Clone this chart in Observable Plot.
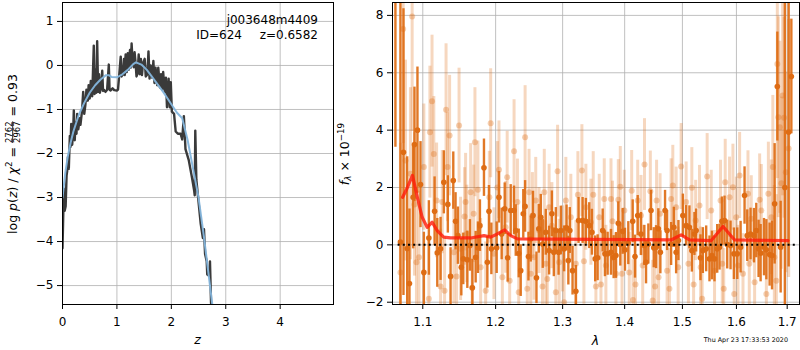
<!DOCTYPE html>
<html><head><meta charset="utf-8">
<script src="https://cdn.jsdelivr.net/npm/d3@7"></script>
<script src="https://cdn.jsdelivr.net/npm/@observablehq/plot@0.6"></script>
<style>
body{margin:0;background:#fff;}
#wrap{position:relative;width:800px;height:350px;overflow:hidden;background:#fff;}
#left,#right{position:absolute;top:0;}
#left{left:0;}
#right{left:330px;}
.lbl{white-space:pre;}
</style></head><body>
<div id="wrap"><div id="left"></div><div id="right"></div></div>
<script>
// ---------- left panel: log p(z) ----------
const zTicks = [0, 1, 2, 3, 4];
const pTicks = [-5, -4, -3, -2, -1, 0, 1];
const zDark = [0.000,0.010,0.025,0.040,0.058,0.075,0.086,0.100,0.116,0.135,0.147,0.160,0.178,0.196,0.208,0.225,0.240,0.257,0.270,0.290,0.318,0.330,0.360,0.380,0.400,0.420,0.440,0.465,0.480,0.500,0.520,0.546,0.560,0.575,0.590,0.607,0.622,0.637,0.655,0.670,0.686,0.700,0.730,0.745,0.760,0.790,0.820,0.851,0.865,0.880,0.920,0.950,1.000,1.020,1.050,1.070,1.085,1.110,1.130,1.145,1.160,1.180,1.200,1.215,1.240,1.255,1.270,1.290,1.310,1.325,1.340,1.360,1.380,1.400,1.420,1.440,1.460,1.480,1.510,1.530,1.560,1.580,1.600,1.620,1.650,1.670,1.690,1.710,1.740,1.760,1.790,1.810,1.830,1.850,1.880,1.900,1.920,1.950,1.970,1.990,2.010,2.050,2.080,2.120,2.170,2.200,2.230,2.260,2.320,2.380,2.420,2.430,2.440,2.460,2.500,2.540,2.580,2.600,2.620,2.650,2.660,2.700,2.710,2.730,2.750];
const pDark = [-4.15,-3.60,-2.80,-3.30,-3.20,-2.50,-2.40,-2.08,-2.35,-1.60,-1.85,-1.33,-1.80,-1.50,-1.02,-1.70,-1.30,-1.55,-1.10,-1.45,-1.20,-1.35,-1.02,-0.60,-1.10,-0.90,-0.55,-0.80,-0.45,-0.75,-0.35,-0.70,-0.15,0.45,-0.65,-0.10,-0.62,0.55,-0.60,-0.20,-0.62,-0.55,-0.12,-0.58,-0.55,-0.60,-0.55,0.02,-0.55,-0.57,-0.52,-0.56,-0.57,-0.55,-0.10,0.20,-0.25,-0.20,0.15,-0.22,0.25,-0.15,0.28,-0.10,0.35,-0.05,0.50,0.05,-0.04,0.30,0.10,-0.25,-0.18,0.25,-0.20,0.15,-0.22,0.05,0.15,-0.25,-0.20,0.32,-0.30,0.00,-0.28,0.10,-0.40,-0.05,-0.45,-0.05,-0.50,-0.20,-0.55,-0.15,-0.60,-0.28,-0.95,-0.30,-0.95,-0.38,-1.05,-1.10,-1.50,-1.55,-1.55,-1.68,-1.15,-1.90,-2.15,-2.55,-2.85,-2.95,-1.48,-2.60,-3.10,-3.60,-3.92,-3.72,-4.28,-4.45,-4.75,-4.78,-4.45,-5.40,-5.60];
const zSmooth = [0.00,0.05,0.10,0.15,0.20,0.30,0.40,0.50,0.60,0.70,0.80,0.85,0.90,1.00,1.10,1.20,1.30,1.35,1.45,1.55,1.70,1.85,2.00,2.10,2.20,2.30,2.40,2.50,2.60,2.70,2.76];
const pSmooth = [-3.00,-2.45,-2.05,-1.75,-1.50,-1.12,-0.85,-0.62,-0.45,-0.32,-0.22,-0.22,-0.26,-0.27,-0.20,-0.10,0.03,0.07,0.02,-0.10,-0.35,-0.60,-0.88,-1.07,-1.20,-1.70,-2.35,-3.00,-3.90,-4.90,-5.50];

// ---------- right panel: spectrum ----------
const lamTicks = [1.1, 1.2, 1.3, 1.4, 1.5, 1.6, 1.7];
const fTicks = [-2, 0, 2, 4, 6, 8];
const darkLam = [
1.0646,1.0710,1.0749,1.0797,1.0826,1.0874,1.0891,1.0930,1.0970,1.1014,
1.1080,1.1156,1.1192,1.1236,1.1280,1.1334,1.1371,1.1408,1.1439,1.1471,
1.1518,1.1545,1.1601,1.1637,1.1671,1.1717,1.1749,1.1777,1.1834,1.1882,
1.1905,1.1939,1.2015,1.2048,1.2087,1.2131,1.2174,1.2218,1.2267,1.2292,
1.2336,1.2365,1.2403,1.2430,1.2480,1.2514,1.2548,1.2600,1.2635,1.2665,
1.2695,1.2741,1.2792,1.2834,1.2864,1.2895,1.2937,1.2972,1.3023,1.3061,
1.3089,1.3112,1.3155,1.3207,1.3250,1.3314,1.3366,1.3420,1.3463,1.3516,
1.3555,1.3637,1.3674,1.3718,1.3773,1.3817,1.3855,1.3894,1.3927,1.3967,
1.4005,1.4061,1.4135,1.4174,1.4220,1.4276,1.4333,1.4362,1.4402,1.4448,
1.4495,1.4535,1.4575,1.4610,1.4692,1.4728,1.4799,1.4847,1.4888,1.4929,
1.5008,1.5067,1.5126,1.5170,1.5217,1.5248,1.5327,1.5371,1.5432,1.5493,
1.5538,1.5586,1.5637,1.5680,1.5725,1.5774,1.5825,1.5888,1.5952,1.6016,
1.6080,1.6156,1.6208,1.6272,1.6339,1.6384,1.6429,1.6469,1.6536,1.6582,
1.6647,1.6695,1.6747,1.6801,1.6868,1.6953,1.7030,1.7085];
const darkFlux = [
9.0,0.1,3.23,-0.13,-1.35,1.66,3.5,4.0,2.1,-0.96,
0.24,1.17,-0.28,-0.14,2.18,1.41,-1.1,2.24,0.82,0.32,
-0.78,-0.49,-0.52,-0.02,-1.5,-0.43,-0.1,0.67,2.69,-0.61,
1.17,-0.14,-0.1,1.66,0.38,1.26,-0.45,1.2,1.2,0.5,
-0.3,-0.9,1.08,1.34,-0.41,0.2,1.02,-1.15,0.56,0.96,
0.03,0.44,-0.2,1.08,-0.26,0.5,-0.26,0.5,-0.14,0.59,
-0.55,0.5,-0.9,-1.62,0.85,0.85,0.82,0.67,0.44,-0.49,
-0.45,0.5,-0.31,-0.31,-0.26,-0.43,-0.37,0.75,0.01,0.47,
-0.17,0.06,0.82,-0.41,1.02,0.38,-0.02,-0.61,0.03,1.2,
-0.1,-0.08,0.56,-0.26,1.2,0.5,0.03,0.61,-0.26,0.15,
1.02,0.67,0.61,-0.2,0.38,0.5,-0.45,-0.2,-0.14,-0.49,
-0.37,-0.49,-0.14,-0.08,0.82,0.85,0.01,-0.02,-0.31,-0.31,
-0.08,1.72,0.32,0.38,0.32,0.5,-0.14,-0.29,-0.08,-0.17,
-0.34,-0.37,1.43,5.52,-0.08,2.0,3.93,5.87];
const darkErr = [
5.6,9.0,5.0,3.2,2.6,1.8,2.0,2.2,1.5,1.4,
1.3,1.2,1.2,1.1,1.1,1.0,1.0,1.0,1.0,1.0,
1.0,0.9,1.0,0.9,1.0,0.9,0.9,0.9,1.0,0.9,
0.9,0.9,0.9,0.9,0.9,0.9,0.85,0.9,0.85,0.9,
0.85,0.9,0.85,0.9,0.85,0.8,0.85,0.9,0.85,0.8,
0.85,0.8,0.85,0.8,0.85,0.8,0.8,0.85,0.8,0.8,
0.85,0.8,0.85,0.9,0.8,0.8,0.8,0.8,0.8,0.8,
0.8,0.75,0.8,0.75,0.8,0.75,0.8,0.75,0.75,0.8,
0.75,0.75,0.75,0.75,0.7,0.75,0.7,0.75,0.7,0.7,
0.7,0.75,0.7,0.75,0.7,0.7,0.75,0.7,0.75,0.7,
0.75,0.7,0.75,0.75,0.75,0.75,0.8,0.8,0.8,0.8,
0.85,0.8,0.85,0.8,0.85,0.85,0.85,0.85,0.9,0.9,
0.9,1.0,0.9,0.9,0.95,0.95,1.0,1.0,1.0,1.05,
1.1,1.2,2.1,1.9,1.6,8.0,4.7,2.0];
const lightLam = [
1.0710,1.0745,1.0775,1.0839,1.0861,1.0891,1.0917,1.0950,1.1014,1.1080,
1.1094,1.1122,1.1146,1.1183,1.1236,1.1259,1.1290,1.1310,1.1330,1.1358,
1.1416,1.1453,1.1487,1.1508,1.1563,1.1577,1.1594,1.1647,1.1668,1.1689,
1.1707,1.1749,1.1787,1.1858,1.1910,1.1929,1.1976,1.2025,1.2048,1.2097,
1.2145,1.2167,1.2203,1.2267,1.2317,1.2336,1.2430,1.2462,1.2489,1.2514,
1.2539,1.2563,1.2589,1.2639,1.2691,1.2718,1.2741,1.2764,1.2792,1.2834,
1.2895,1.2922,1.2947,1.2999,1.3023,1.3050,1.3128,1.3207,1.3239,1.3303,
1.3335,1.3366,1.3447,1.3484,1.3527,1.3581,1.3609,1.3663,1.3690,1.3773,
1.3798,1.3855,1.3894,1.3927,1.3956,1.3994,1.4077,1.4118,1.4140,1.4182,
1.4220,1.4276,1.4305,1.4336,1.4436,1.4476,1.4518,1.4544,1.4579,1.4605,
1.4728,1.4769,1.4799,1.4829,1.4888,1.4924,1.4977,1.5067,1.5108,1.5170,
1.5202,1.5239,1.5309,1.5331,1.5358,1.5450,1.5525,1.5587,1.5699,1.5731,
1.5759,1.5787,1.5869,1.5933,1.5958,1.5997,1.6030,1.6061,1.6126,1.6222,
1.6247,1.6286,1.6351,1.6450,1.6483,1.6582,1.6622,1.6681,1.6711,1.6741,
1.6781,1.6801,1.6821,1.6851,1.6882,1.6908,1.6937,1.6973,1.7030];
const lightFlux = [
-0.96,7.53,2.94,2.48,7.96,1.41,-0.61,-0.43,2.71,-1.88,
3.93,5.01,3.17,1.55,-1.45,1.49,-1.6,4.71,2.71,3.81,
-0.26,-1.1,4.16,-0.14,0.99,1.49,0.38,1.83,-1.5,1.08,
3.58,1.92,-0.78,-1.6,1.66,4.24,-0.31,2.0,2.62,-1.13,
0.61,2.36,-1.25,3.26,1.49,-1.65,3.75,-1.53,1.83,-1.01,
1.02,-0.43,1.55,0.5,-1.45,1.83,-0.66,-1.19,1.31,0.67,
-1.65,2.57,-0.61,-0.14,-2.0,1.55,0.96,-0.66,1.75,2.59,
-0.57,1.31,0.79,1.75,-1.45,0.96,-1.38,1.6,-0.72,1.6,
0.82,-1.01,1.57,2.03,-1.01,1.2,-0.96,1.89,-1.92,-1.38,
1.55,1.02,-0.72,2.8,1.87,-1.94,-1.45,1.55,-1.13,1.08,
-0.9,-1.53,1.6,2.07,1.31,-0.78,2.73,1.49,-0.66,1.99,
-1.38,0.85,1.37,-0.78,-1.88,2.38,1.2,-0.9,1.55,-0.66,
-1.53,2.18,1.66,2.01,-1.71,0.96,-0.72,2.42,-1.01,1.78,
-0.66,0.91,-1.3,1.57,1.2,-1.71,1.78,0.96,2.71,-0.43,
-1.25,6.31,4.45,4.1,2.15,5.21,4.43,2.53,3.36];
const lightErr = [
4.5,4.0,3.5,3.0,4.0,2.5,2.5,2.3,2.2,2.0,
2.3,2.3,2.0,2.0,2.0,1.8,1.9,2.3,1.9,2.1,
1.8,1.8,2.0,1.8,1.7,1.7,1.7,1.7,1.7,1.7,
1.9,1.7,1.7,1.7,1.6,1.9,1.6,1.6,1.7,1.6,
1.6,1.6,1.6,1.8,1.5,1.6,1.8,1.5,1.5,1.5,
1.5,1.5,1.5,1.5,1.5,1.5,1.5,1.5,1.5,1.5,
1.5,1.6,1.5,1.5,1.5,1.5,1.5,1.5,1.5,1.6,
1.5,1.5,1.5,1.5,1.5,1.5,1.5,1.4,1.4,1.4,
1.4,1.4,1.4,1.4,1.4,1.4,1.4,1.4,1.4,1.4,
1.4,1.4,1.4,1.6,1.4,1.4,1.4,1.4,1.4,1.4,
1.4,1.4,1.4,1.4,1.4,1.4,1.5,1.4,1.4,1.4,
1.4,1.4,1.4,1.4,1.4,1.5,1.4,1.4,1.4,1.4,
1.4,1.5,1.4,1.5,1.4,1.4,1.4,1.5,1.4,1.5,
1.5,1.5,1.5,1.6,1.6,1.7,1.8,2.0,2.5,2.5,
3.0,4.0,3.5,3.0,3.0,3.5,3.5,3.5,4.5];
const modelLam = [1.0738,1.0800,1.0865,1.0938,1.0992,1.1058,1.1124,1.1189,1.1278,1.1371,1.1647,1.1834,1.1929,1.2025,1.2130,1.2218,1.2316,1.3500,1.4799,1.4977,1.5127,1.5525,1.5746,1.5965,1.7018];
const modelFlux = [1.66,2.00,2.42,1.55,0.96,0.61,0.79,0.50,0.27,0.24,0.24,0.32,0.27,0.38,0.52,0.32,0.21,0.19,0.17,0.35,0.17,0.15,0.64,0.17,0.15];
const zeroLam = [1.068, 1.722];

const ORANGE = "#de6c14";
const FONT = "DejaVu Sans";
const minusFmt = d => (d < 0 ? "\u2212" + Math.abs(d) : String(d));

const pzDark = zDark.map((z, i) => ({z, p: pDark[i]}));
const pzSmooth = zSmooth.map((z, i) => ({z, p: pSmooth[i]}));
const dark = darkLam.map((l, i) => ({l, f: darkFlux[i], lo: darkFlux[i] - darkErr[i], hi: darkFlux[i] + darkErr[i]}));
const light = lightLam.map((l, i) => ({l, f: lightFlux[i], lo: lightFlux[i] - lightErr[i], hi: lightFlux[i] + lightErr[i]}));
const model = modelLam.map((l, i) => ({l, f: modelFlux[i]}));

const leftSvg = Plot.plot({
  width: 340, height: 350,
  marginLeft: 62, marginRight: 7, marginTop: 2, marginBottom: 46,
  style: {fontFamily: FONT, fontSize: "12px", color: "black", background: "transparent", overflow: "visible"},
  x: {domain: [0, 4.98], ticks: zTicks, tickSize: 5, tickPadding: 8, tickFormat: d => String(d), label: null},
  y: {domain: [-5.43, 1.43], ticks: pTicks, tickSize: 5, tickPadding: 4, tickFormat: minusFmt, label: null},
  marks: [
    Plot.ruleX(zTicks, {stroke: "#b0b0b0", strokeWidth: 0.8}),
    Plot.ruleY(pTicks, {stroke: "#b0b0b0", strokeWidth: 0.8}),
    Plot.line(pzDark, {x: "z", y: "p", stroke: "#3a3a3a", strokeWidth: 2.4, clip: true}),
    Plot.line(pzSmooth, {x: "z", y: "p", stroke: "#84b5dc", strokeWidth: 2, strokeOpacity: 0.95, clip: true}),
    Plot.frame({stroke: "black", strokeWidth: 1})
  ]
});
document.getElementById("left").appendChild(leftSvg);

const rightSvg = Plot.plot({
  width: 470, height: 350,
  marginLeft: 62, marginRight: 1, marginTop: 2, marginBottom: 46,
  style: {fontFamily: FONT, fontSize: "12px", color: "black", background: "transparent", overflow: "visible"},
  x: {type: "log", domain: [1.0609, 1.7252], ticks: lamTicks, tickSize: 5, tickPadding: 8, tickFormat: d => d.toFixed(1), label: null},
  y: {domain: [-2.08, 8.45], ticks: fTicks, tickSize: 5, tickPadding: 4, tickFormat: minusFmt, label: null},
  marks: [
    Plot.ruleX(lamTicks, {stroke: "#b0b0b0", strokeWidth: 0.8}),
    Plot.ruleY(fTicks, {stroke: "#b0b0b0", strokeWidth: 0.8}),
    Plot.ruleX(light, {x: "l", y1: "lo", y2: "hi", stroke: ORANGE, strokeOpacity: 0.27, strokeWidth: 3, clip: true}),
    Plot.dot(light, {x: "l", y: "f", r: 3, fill: ORANGE, fillOpacity: 0.33, clip: true}),
    Plot.ruleX(dark, {x: "l", y1: "lo", y2: "hi", stroke: ORANGE, strokeOpacity: 0.92, strokeWidth: 2.4, clip: true}),
    Plot.dot(dark, {x: "l", y: "f", r: 2.8, fill: ORANGE, clip: true}),
    Plot.line(model, {x: "l", y: "f", stroke: "#ff1a0a", strokeOpacity: 0.8, strokeWidth: 3.2, clip: true}),
    Plot.ruleY([0], {x1: zeroLam[0], x2: zeroLam[1], stroke: "black", strokeWidth: 2, strokeDasharray: "2,3.2", clip: true}),
    Plot.frame({stroke: "black", strokeWidth: 1})
  ]
});
document.getElementById("right").appendChild(rightSvg);

// ---------- text labels ----------
const L = d3.select(leftSvg);
L.append("text").attr("x", 318).attr("y", 24.3).attr("text-anchor", "end")
  .attr("font-family", FONT).attr("font-size", 12).text("j003648m4409");
L.append("text").attr("x", 242).attr("y", 38.5).attr("text-anchor", "end")
  .attr("font-family", FONT).attr("font-size", 12).text("ID=624");
L.append("text").attr("x", 318).attr("y", 38.5).attr("text-anchor", "end")
  .attr("font-family", FONT).attr("font-size", 12).text("z=0.6582");
L.append("text").attr("x", 197.5).attr("y", 344).attr("text-anchor", "middle")
  .attr("font-family", FONT).attr("font-size", 12.5).attr("font-style", "italic").text("z");

// rotated y label of left panel (one text element, fraction via tspans)
const tA = L.append("text").attr("class", "lbl")
  .attr("transform", "translate(16.5,154) rotate(-90)")
  .attr("text-anchor", "middle")
  .attr("font-family", FONT).attr("font-size", 12.5).attr("fill", "black");
tA.append("tspan").text("log ");
tA.append("tspan").attr("font-style", "italic").text("p");
tA.append("tspan").text("(");
tA.append("tspan").attr("font-style", "italic").text("z");
tA.append("tspan").text(") / ");
tA.append("tspan").attr("font-style", "italic").text("\u03c7");
tA.append("tspan").attr("font-size", 8.75).attr("dy", -5).text("2");
tA.append("tspan").attr("dy", 5).text(" = ");
tA.append("tspan").attr("font-size", 8.5).attr("dy", -4.6).text("2762");
tA.append("tspan").attr("font-size", 8.5).attr("dx", -21.6).attr("dy", 8.4)
  .style("text-decoration", "overline").text("2967");
tA.append("tspan").attr("dx", 1).attr("dy", -3.8).text(" = 0.93");

const R = d3.select(rightSvg);
R.append("text").attr("x", 265.5).attr("y", 345).attr("text-anchor", "middle")
  .attr("font-family", FONT).attr("font-size", 12.5).attr("font-style", "italic").text("\u03bb");
R.append("text").attr("x", 458).attr("y", 342).attr("text-anchor", "end")
  .attr("font-family", FONT).attr("font-size", 6.4).text("Thu Apr 23 17:33:53 2020");

const tR = R.append("text").attr("class", "lbl")
  .attr("transform", "translate(18.5,154) rotate(-90)")
  .attr("text-anchor", "middle")
  .attr("font-family", FONT).attr("font-size", 12.5).attr("fill", "black");
tR.append("tspan").attr("font-style", "italic").text("f");
tR.append("tspan").attr("font-style", "italic").attr("font-size", 8.75).attr("dy", 2.5).text("\u03bb");
tR.append("tspan").attr("dy", -2.5).text(" \u00d7 10");
tR.append("tspan").attr("font-size", 8.75).attr("dy", -5).text("\u221219");
</script>
</body></html>
